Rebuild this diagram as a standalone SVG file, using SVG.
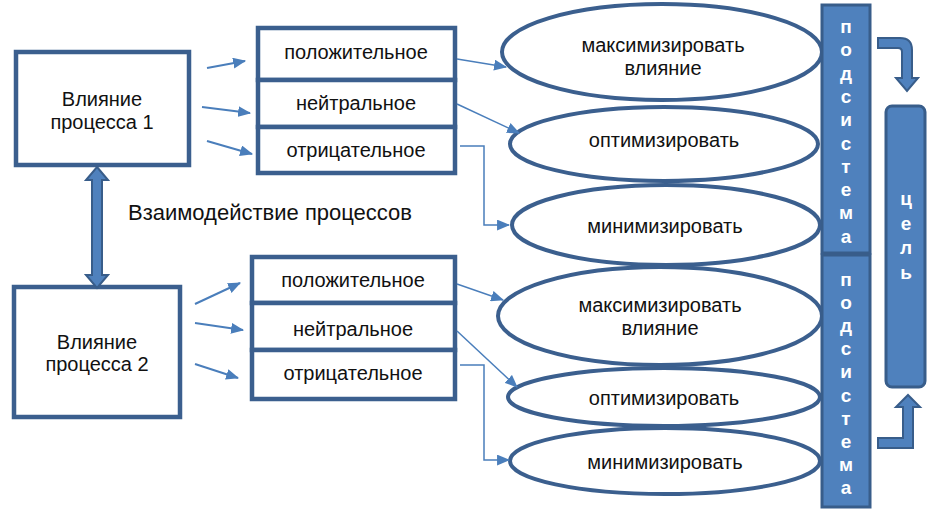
<svg xmlns="http://www.w3.org/2000/svg" width="933" height="511" viewBox="0 0 933 511">
<defs>
<style>
.box{fill:#fff;stroke:#3b5f8e;stroke-width:4.5}
.ell{fill:#fff;stroke:#3b5f8e;stroke-width:4}
.t{font-family:"Liberation Sans",Arial,sans-serif;font-size:20px;fill:#111;text-anchor:middle}
.big{font-size:22px}
.bar{fill:#4f81bd;stroke:#385d8a;stroke-width:3}
.wl{font-family:"Liberation Sans",Arial,sans-serif;font-size:19px;fill:#fff;text-anchor:middle;font-weight:bold}
.ln{fill:none;stroke:#4a7ebb;stroke-width:2;marker-end:url(#ah)}
.ln2{fill:none;stroke:#4a7ebb;stroke-width:1.5;marker-end:url(#ah)}
.fat{fill:#4f81bd;stroke:#385d8a;stroke-width:2}
</style>
<marker id="ah" viewBox="0 0 12 10" refX="11" refY="5" markerWidth="13" markerHeight="11" markerUnits="userSpaceOnUse" orient="auto">
<path d="M0,0 L12,5 L0,10 Z" fill="#4a7ebb"/>
</marker>
</defs>
<rect width="933" height="511" fill="#fff"/>

<g id="proc1">
<rect class="box" x="16" y="52" width="173" height="113"/>
<text class="t" x="102" y="106">Влияние</text>
<text class="t" x="102" y="129">процесса 1</text>
</g>
<g id="proc2">
<rect class="box" x="14" y="287" width="166" height="130"/>
<text class="t" x="97" y="349">Влияние</text>
<text class="t" x="97" y="371">процесса 2</text>
</g>

<g id="p1-pos"><rect class="box" x="258" y="28" width="197" height="52"/><text class="t" x="356" y="59">положительное</text></g>
<g id="p1-neu"><rect class="box" x="258" y="80" width="197" height="47"/><text class="t" x="356" y="110">нейтральное</text></g>
<g id="p1-neg"><rect class="box" x="258" y="127" width="197" height="46"/><text class="t" x="356" y="157">отрицательное</text></g>

<g id="p2-pos"><rect class="box" x="252" y="257" width="203" height="46"/><text class="t" x="353" y="287">положительное</text></g>
<g id="p2-neu"><rect class="box" x="252" y="303" width="203" height="47"/><text class="t" x="353" y="336">нейтральное</text></g>
<g id="p2-neg"><rect class="box" x="252" y="350" width="203" height="49"/><text class="t" x="353" y="380">отрицательное</text></g>

<g id="e1-max"><ellipse class="ell" cx="662" cy="52" rx="160" ry="48"/><text class="t" x="663" y="52">максимизировать</text><text class="t" x="663" y="75">влияние</text></g>
<g id="e1-opt"><ellipse class="ell" cx="664" cy="144" rx="154" ry="37"/><text class="t" x="664" y="147">оптимизировать</text></g>
<g id="e1-min"><ellipse class="ell" cx="666" cy="225" rx="154" ry="40"/><text class="t" x="665" y="233">минимизировать</text></g>

<g id="e2-max"><ellipse class="ell" cx="660" cy="316" rx="162" ry="49"/><text class="t" x="660" y="312">максимизировать</text><text class="t" x="660" y="335">влияние</text></g>
<g id="e2-opt"><ellipse class="ell" cx="664" cy="397" rx="156" ry="29"/><text class="t" x="664" y="405">оптимизировать</text></g>
<g id="e2-min"><ellipse class="ell" cx="665" cy="461" rx="155" ry="33"/><text class="t" x="665" y="469">минимизировать</text></g>

<g id="sub1">
<rect class="bar" x="822" y="5" width="48" height="248"/>
<text class="wl"><tspan x="846" y="33">п</tspan><tspan x="846" y="56.3">о</tspan><tspan x="846" y="79.6">д</tspan><tspan x="846" y="102.9">с</tspan><tspan x="846" y="126.2">и</tspan><tspan x="846" y="149.5">с</tspan><tspan x="846" y="172.8">т</tspan><tspan x="846" y="196.1">е</tspan><tspan x="846" y="219.4">м</tspan><tspan x="846" y="242.7">а</tspan></text>
</g>
<g id="sub2">
<rect class="bar" x="822" y="255" width="48" height="252"/>
<text class="wl"><tspan x="846" y="286">п</tspan><tspan x="846" y="309.1">о</tspan><tspan x="846" y="332.2">д</tspan><tspan x="846" y="355.3">с</tspan><tspan x="846" y="378.4">и</tspan><tspan x="846" y="401.5">с</tspan><tspan x="846" y="424.6">т</tspan><tspan x="846" y="447.7">е</tspan><tspan x="846" y="470.8">м</tspan><tspan x="846" y="493.9">а</tspan></text>
</g>
<g id="goal">
<rect class="bar" x="886" y="106" width="39" height="281" rx="6"/>
<text class="wl"><tspan x="906" y="205">ц</tspan><tspan x="906" y="230">е</tspan><tspan x="906" y="254">л</tspan><tspan x="906" y="279">ь</tspan></text>
</g>

<text class="t big" x="270" y="220">Взаимодействие процессов</text>

<g id="connectors">
<path class="fat" d="M97,167 L108,180 L102,180 L102,275 L108,275 L97,288 L86,275 L92,275 L92,180 L86,180 Z"/>
<line class="ln" x1="207" y1="68" x2="245" y2="61"/>
<line class="ln" x1="202" y1="107" x2="250" y2="113"/>
<line class="ln" x1="207" y1="141" x2="252" y2="154"/>
<line class="ln" x1="195" y1="304" x2="240" y2="283"/>
<line class="ln" x1="195" y1="323" x2="243" y2="330"/>
<line class="ln" x1="195" y1="364" x2="238" y2="378"/>
<line class="ln2" x1="457" y1="59" x2="506" y2="67"/>
<line class="ln2" x1="457" y1="104" x2="519" y2="133"/>
<path class="ln2" d="M460,146 L484,146 L484,225 L509,225"/>
<line class="ln2" x1="457" y1="284" x2="503" y2="300"/>
<line class="ln2" x1="457" y1="331" x2="517" y2="387"/>
<path class="ln2" d="M460,365 L484,365 L484,460 L509,460"/>
<path class="fat" d="M878,38 L900,38 Q912,38 912,50 L912,78 L918,78 L907,91 L896,78 L902,78 L902,52 Q902,48 898,48 L878,48 Z"/>
<path class="fat" d="M878,438 L903,438 L903,407 L896,407 L908,395 L920,407 L913,407 L913,448 L878,448 Z"/>
</g>
</svg>
